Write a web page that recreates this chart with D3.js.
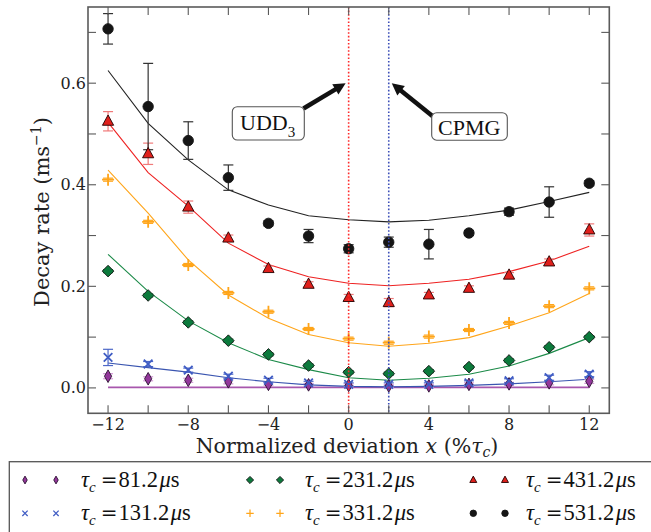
<!DOCTYPE html>
<html>
<head>
<meta charset="utf-8">
<script src="https://cdn.jsdelivr.net/npm/d3@7"></script>
<style>
  html, body { margin: 0; padding: 0; background: #fff; }
  svg { display: block; }
</style>
</head>
<body>
<svg id="chart" width="651" height="532"></svg>
<script>
// ---------- data ----------
const xValues = [-12, -10, -8, -6, -4, -2, 0, 2, 4, 6, 8, 10, 12];

const tauLabels = ["81.2", "131.2", "231.2", "331.2", "431.2", "531.2"];

const rate081 = [0.023, 0.018, 0.015, 0.012, 0.007, 0.006, 0.005, 0.004, 0.004, 0.007, 0.008, 0.010, 0.013];
const err081  = [0.005, 0.004, 0.004, 0.004, 0.003, 0.003, 0.003, 0.003, 0.003, 0.003, 0.003, 0.004, 0.004];
const fit081  = [0.001, 0.001, 0.001, 0.001, 0.001, 0.001, 0.001, 0.001, 0.001, 0.001, 0.001, 0.001, 0.001];

const rate131 = [0.060, 0.047, 0.035, 0.023, 0.015, 0.010, 0.007, 0.007, 0.007, 0.010, 0.014, 0.020, 0.027];
const err131  = [0.016, 0.005, 0.004, 0.004, 0.004, 0.003, 0.003, 0.003, 0.003, 0.004, 0.004, 0.005, 0.005];
const fit131  = [0.049, 0.040, 0.031, 0.020, 0.012, 0.006, 0.003, 0.002, 0.003, 0.005, 0.008, 0.012, 0.017];

const rate231 = [0.230, 0.182, 0.129, 0.093, 0.066, 0.044, 0.031, 0.028, 0.033, 0.041, 0.054, 0.080, 0.100];
const err231  = [0.003, 0.003, 0.003, 0.003, 0.003, 0.003, 0.003, 0.003, 0.003, 0.003, 0.003, 0.003, 0.003];
const fit231  = [0.263, 0.190, 0.132, 0.089, 0.056, 0.036, 0.020, 0.015, 0.019, 0.027, 0.043, 0.068, 0.099];

const rate331 = [0.410, 0.327, 0.242, 0.187, 0.150, 0.116, 0.097, 0.089, 0.101, 0.114, 0.128, 0.161, 0.196];
const err331  = [0.003, 0.003, 0.003, 0.003, 0.003, 0.003, 0.003, 0.003, 0.003, 0.003, 0.003, 0.003, 0.003];
const fit331  = [0.429, 0.344, 0.252, 0.183, 0.137, 0.105, 0.089, 0.082, 0.088, 0.099, 0.122, 0.148, 0.186];

const rate431 = [0.525, 0.461, 0.356, 0.295, 0.235, 0.204, 0.178, 0.168, 0.183, 0.196, 0.222, 0.248, 0.311];
const err431  = [0.019, 0.021, 0.012, 0.006, 0.005, 0.005, 0.006, 0.008, 0.005, 0.005, 0.005, 0.006, 0.012];
const fit431  = [0.523, 0.424, 0.358, 0.285, 0.243, 0.219, 0.206, 0.201, 0.206, 0.214, 0.229, 0.250, 0.279];

const rate531 = [0.707, 0.554, 0.487, 0.414, 0.324, 0.299, 0.274, 0.287, 0.283, 0.305, 0.347, 0.366, 0.403];
const err531  = [0.030, 0.085, 0.037, 0.025, 0.005, 0.013, 0.008, 0.010, 0.029, 0.005, 0.007, 0.030, 0.005];
const fit531  = [0.625, 0.521, 0.449, 0.390, 0.360, 0.339, 0.331, 0.327, 0.330, 0.339, 0.350, 0.367, 0.385];

const xTicksMajor = [-12, -8, -4, 0, 4, 8, 12];
const xTicksMinor = [-12, -10, -8, -6, -4, -2, 0, 2, 4, 6, 8, 10, 12];
const yTicksMajor = [0.0, 0.2, 0.4, 0.6];
const yTicksMinor = [0.0, 0.1, 0.2, 0.3, 0.4, 0.5, 0.6, 0.7];

const markerLines = [0, 2];               // UDD3 and CPMG positions
const annotationText = ["UDD", "CPMG"];
const annotationTip = [[-0.15, 0.6], [2.15, 0.6]];

// ---------- styling ----------
const series = [
  {rate: rate081, err: err081, fit: fit081, shape: "thin",     fill: "#93379b", edge: "#2a1030", line: "#a857ad", errc: "#d59ad8"},
  {rate: rate131, err: err131, fit: fit131, shape: "x",        fill: "#3f5cc4", edge: "#3f5cc4", line: "#3a55b0", errc: "#4d68c8"},
  {rate: rate231, err: err231, fit: fit231, shape: "diamond",  fill: "#0c7a3c", edge: "#111",    line: "#1b8a48", errc: "#1b8a48"},
  {rate: rate331, err: err331, fit: fit331, shape: "plus",     fill: "#ffa51a", edge: "#ffa51a", line: "#ffa51a", errc: "#ffa51a"},
  {rate: rate431, err: err431, fit: fit431, shape: "triangle", fill: "#e0201c", edge: "#220000", line: "#ee2222", errc: "#f07a7a"},
  {rate: rate531, err: err531, fit: fit531, shape: "circle",   fill: "#151515", edge: "#151515", line: "#222",    errc: "#333"}
];

const svg = d3.select("#chart");
const L = 88, R = 609.3, T = 7, B = 413.3;
const x = d3.scaleLinear().domain([-13, 13]).range([L, R]);
const y = d3.scaleLinear().domain([-0.05, 0.75]).range([B, T]);

function markerPath(shape, s) {
  const p = d3.path();
  if (shape === "circle") { p.arc(0, 0, 5.2 * s, 0, 2 * Math.PI); }
  else if (shape === "triangle") { p.moveTo(0, -6.3 * s); p.lineTo(5.6 * s, 4 * s); p.lineTo(-5.6 * s, 4 * s); p.closePath(); }
  else if (shape === "diamond") { const h = 5.8 * s; p.moveTo(0, -h); p.lineTo(h, 0); p.lineTo(0, h); p.lineTo(-h, 0); p.closePath(); }
  else if (shape === "thin") { p.moveTo(0, -6.3 * s); p.lineTo(3.6 * s, 0); p.lineTo(0, 6.3 * s); p.lineTo(-3.6 * s, 0); p.closePath(); }
  else if (shape === "plus") { const h = 6 * s; p.moveTo(-h, 0); p.lineTo(h, 0); p.moveTo(0, -h); p.lineTo(0, h); }
  else if (shape === "x") { const h = 4.3 * s; p.moveTo(-h, -h); p.lineTo(h, h); p.moveTo(-h, h); p.lineTo(h, -h); }
  return p.toString();
}
function drawMarker(g, sr, cx, cy, s) {
  const stroked = (sr.shape === "plus" || sr.shape === "x");
  g.append("path")
    .attr("d", markerPath(sr.shape, s))
    .attr("transform", `translate(${cx},${cy})`)
    .attr("fill", stroked ? "none" : sr.fill)
    .attr("stroke", stroked ? sr.fill : sr.edge)
    .attr("stroke-width", stroked ? 1.8 * Math.max(s, 0.7) : 0.9);
}

// ---------- plot ----------
const plot = svg.append("g");
const line = d3.line().x((d, i) => x(xValues[i])).y(d => y(d));

series.forEach(sr => {
  plot.append("path").attr("d", line(sr.fit)).attr("fill", "none")
    .attr("stroke", sr.line).attr("stroke-width", sr.shape === "thin" ? 1.6 : 1.1);
});
series.forEach(sr => {
  const g = plot.append("g").attr("stroke", sr.errc).attr("stroke-width", 1.2);
  sr.rate.forEach((v, i) => {
    const cx = x(xValues[i]), y1 = y(v - sr.err[i]), y2 = y(v + sr.err[i]);
    g.append("line").attr("x1", cx).attr("x2", cx).attr("y1", y1).attr("y2", y2);
    g.append("line").attr("x1", cx - 5).attr("x2", cx + 5).attr("y1", y1).attr("y2", y1);
    g.append("line").attr("x1", cx - 5).attr("x2", cx + 5).attr("y1", y2).attr("y2", y2);
  });
});
series.forEach(sr => {
  const g = plot.append("g");
  sr.rate.forEach((v, i) => drawMarker(g, sr, x(xValues[i]), y(v), 1));
});

// vertical dotted lines
const vColors = ["#ff2a2a", "#3c4fb8"];
markerLines.forEach((v, i) => {
  plot.append("line").attr("x1", x(v)).attr("x2", x(v)).attr("y1", T).attr("y2", B)
    .attr("stroke", vColors[i]).attr("stroke-width", 1.6).attr("stroke-dasharray", "1.6,2");
});

// ---------- axes ----------
const axisColor = "#5a5a5a";
const tickLen = 8;
const ax = svg.append("g").attr("stroke", axisColor).attr("stroke-width", 1.1);
xTicksMinor.forEach(t => {
  ax.append("line").attr("x1", x(t)).attr("x2", x(t)).attr("y1", B).attr("y2", B - tickLen);
  ax.append("line").attr("x1", x(t)).attr("x2", x(t)).attr("y1", T).attr("y2", T + tickLen);
});
yTicksMinor.forEach(t => {
  ax.append("line").attr("x1", L).attr("x2", L + tickLen).attr("y1", y(t)).attr("y2", y(t));
  ax.append("line").attr("x1", R).attr("x2", R - tickLen).attr("y1", y(t)).attr("y2", y(t));
});
svg.append("rect").attr("x", L).attr("y", T).attr("width", R - L).attr("height", B - T)
  .attr("fill", "none").attr("stroke", axisColor).attr("stroke-width", 1.6);

const tickFont = "DejaVu Serif";
const fmtX = d => (d < 0 ? "\u2212" + Math.abs(d) : String(d));
xTicksMajor.forEach(t => {
  svg.append("text").attr("x", x(t)).attr("y", 430).attr("text-anchor", "middle")
    .attr("font-family", tickFont).attr("font-size", 16).attr("fill", "#222").text(fmtX(t));
});
yTicksMajor.forEach(t => {
  svg.append("text").attr("x", 86).attr("y", y(t) + 5.5).attr("text-anchor", "end")
    .attr("font-family", tickFont).attr("font-size", 16).attr("fill", "#222").text(t.toFixed(1));
});

// axis labels
const xl = svg.append("text").attr("x", 347).attr("y", 453).attr("text-anchor", "middle")
  .attr("font-family", tickFont).attr("font-size", 20.5).attr("fill", "#222");
xl.append("tspan").text("Normalized deviation ");
xl.append("tspan").attr("font-style", "italic").text("x");
xl.append("tspan").text(" (%");
xl.append("tspan").attr("font-style", "italic").text("\u03C4");
xl.append("tspan").attr("font-style", "italic").attr("font-size", 14).attr("dy", 4).text("c");
xl.append("tspan").attr("dy", -4).text(")");

const yl = svg.append("text").attr("transform", "translate(49,212) rotate(-90)").attr("text-anchor", "middle")
  .attr("font-family", tickFont).attr("font-size", 21).attr("fill", "#222");
yl.append("tspan").text("Decay rate (ms");
yl.append("tspan").attr("font-size", 14).attr("dy", -8).text("\u22121");
yl.append("tspan").attr("dy", 8).text(")");

// ---------- annotations ----------
const boxes = [
  {x0: 232.3, y0: 106.7, w: 72, h: 33.3, tx: 240, ty: 130, tail: [303.5, 108.5]},
  {x0: 431.7, y0: 112.7, w: 75.6, h: 27.5, tx: 438, ty: 135, tail: [433, 116.5]}
];
boxes.forEach((b, i) => {
  const tip = [x(annotationTip[i][0]), y(annotationTip[i][1])];
  const dx = tip[0] - b.tail[0], dy = tip[1] - b.tail[1];
  const len = Math.hypot(dx, dy), ux = dx / len, uy = dy / len;
  const hl = 12, hw = 6;
  const base = [tip[0] - ux * hl, tip[1] - uy * hl];
  svg.append("line").attr("x1", b.tail[0]).attr("y1", b.tail[1]).attr("x2", base[0] + ux * 2).attr("y2", base[1] + uy * 2)
    .attr("stroke", "#111").attr("stroke-width", 4.5);
  svg.append("path").attr("fill", "#111")
    .attr("d", `M${tip[0]},${tip[1]} L${base[0] - uy * hw},${base[1] + ux * hw} L${base[0] + uy * hw},${base[1] - ux * hw} Z`);
  svg.append("rect").attr("x", b.x0).attr("y", b.y0).attr("width", b.w).attr("height", b.h)
    .attr("rx", 5).attr("fill", "#fff").attr("stroke", "#555").attr("stroke-width", 1.1);
  const t = svg.append("text").attr("x", b.tx).attr("y", b.ty).attr("font-family", "Liberation Serif")
    .attr("font-size", 22).attr("fill", "#111");
  t.append("tspan").text(annotationText[i]);
  if (i === 0) t.append("tspan").attr("font-size", 15).attr("dy", 7).text("3");
});

// ---------- legend ----------
svg.append("rect").attr("x", 9.3).attr("y", 461.7).attr("width", 700).attr("height", 120)
  .attr("fill", "#fff").attr("stroke", "#555").attr("stroke-width", 1.3);
const legCols = [[25, 56, 81], [250, 280, 305], [473.3, 505, 526]];
const legRows = [480, 513.3];
series.forEach((sr, k) => {
  const col = legCols[Math.floor(k / 2)], row = legRows[k % 2];
  const g = svg.append("g");
  drawMarker(g, sr, col[0], row, 0.62);
  drawMarker(g, sr, col[1], row, 0.62);
  const t = svg.append("text").attr("x", col[2]).attr("y", row + 7).attr("font-family", "Liberation Serif")
    .attr("font-size", 22.5).attr("fill", "#111");
  t.append("tspan").attr("font-style", "italic").text("\u03C4");
  t.append("tspan").attr("font-style", "italic").attr("font-size", 15).attr("dy", 5).text("c");
  t.append("tspan").attr("dy", -5).attr("dx", 5).attr("font-family", "DejaVu Serif").attr("font-size", 20).text("=");
  t.append("tspan").attr("dx", 1).text(tauLabels[k]);
  t.append("tspan").attr("dx", 1.5).attr("font-style", "italic").text("\u03BC");
  t.append("tspan").text("s");
});
</script>
</body>
</html>
